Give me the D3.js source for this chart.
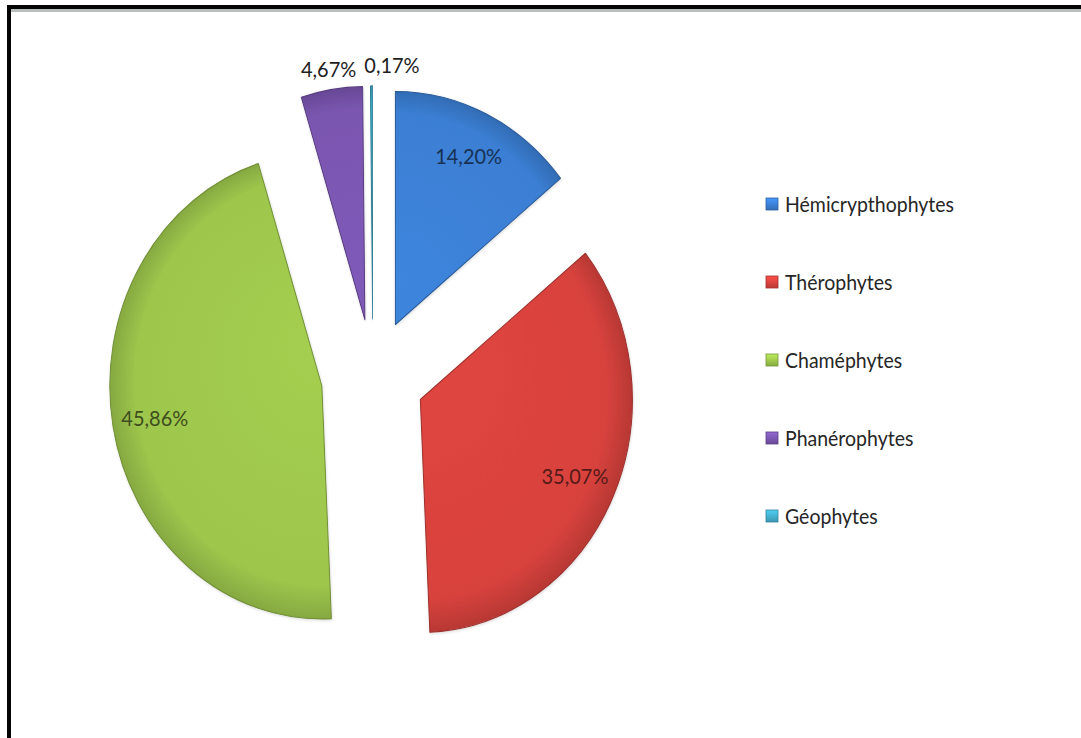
<!DOCTYPE html>
<html>
<head>
<meta charset="utf-8">
<script src="https://cdn.jsdelivr.net/npm/d3@7/dist/d3.min.js"></script>
<style>
  html, body { margin: 0; padding: 0; background: #ffffff; }
  svg { display: block; }
</style>
</head>
<body>
<svg id="chart" width="1081" height="738"></svg>
<script>
// Life-form spectrum (biological types) of the flora, in percent
const categories = ["Hémicrypthophytes", "Thérophytes", "Chaméphytes", "Phanérophytes", "Géophytes"];
const values = [14.20, 35.07, 45.86, 4.67, 0.17];
const valueLabels = ["14,20%", "35,07%", "45,86%", "4,67%", "0,17%"];
const colors = ["#3b7fd4", "#d8423d", "#9dc64c", "#7a56b0", "#43aecd"];

const W = 1081, H = 738;
const svg = d3.select("#chart");

// pie geometry (slightly taller than wide, exploded slices)
const cx = 373, cy = 376;
const R = 233;            // vertical radius
const sx = 0.91;          // horizontal squeeze
const explodeFrac = 0.245;
const textStretch = 1.1;
const fontFamily = "Lato, 'Open Sans', 'DejaVu Sans', sans-serif";

const data = categories.map((name, i) => ({
  name, value: values[i], label: valueLabels[i], color: colors[i]
}));

const pie = d3.pie().sort(null).value(d => d.value)
  .startAngle(0).endAngle(2 * Math.PI);
const arcs = pie(data);
const arc = d3.arc().innerRadius(0).outerRadius(R);

// frame lines
svg.append("rect").attr("x", 0).attr("y", 0).attr("width", W).attr("height", H).attr("fill", "#ffffff");
svg.append("rect").attr("x", 7).attr("y", 9).attr("width", W - 7).attr("height", 3).attr("fill", "#b8bfbc");
svg.append("rect").attr("x", 7).attr("y", 5).attr("width", W - 7).attr("height", 4).attr("fill", "#050505");
svg.append("rect").attr("x", 7).attr("y", 5).attr("width", 4).attr("height", H - 5).attr("fill", "#050505");

const defs = svg.append("defs");

// soft shadow under the slices
const shadow = defs.append("filter").attr("id", "soft").attr("x", "-10%").attr("y", "-10%")
  .attr("width", "120%").attr("height", "120%");
shadow.append("feDropShadow").attr("dx", 0.5).attr("dy", 1).attr("stdDeviation", 1.4)
  .attr("flood-color", "#000").attr("flood-opacity", 0.16);

// slice shading: lighter centre, darker rim
data.forEach((d, i) => {
  const c = d3.color(d.color);
  const g = defs.append("radialGradient").attr("id", "slice" + i)
    .attr("gradientUnits", "userSpaceOnUse").attr("cx", 0).attr("cy", 0).attr("r", R)
    .attr("fx", 0).attr("fy", -R * 0.2);
  g.append("stop").attr("offset", "0%").attr("stop-color", c.brighter(0.12));
  g.append("stop").attr("offset", "88%").attr("stop-color", c);
  g.append("stop").attr("offset", "100%").attr("stop-color", c.darker(0.45));

  const lg = defs.append("linearGradient").attr("id", "key" + i)
    .attr("x1", 0).attr("y1", 0).attr("x2", 0).attr("y2", 1);
  lg.append("stop").attr("offset", "0%").attr("stop-color", c.brighter(0.5));
  lg.append("stop").attr("offset", "100%").attr("stop-color", c.darker(0.4));
});

// pie group, squeezed horizontally
const pieG = svg.append("g")
  .attr("transform", `translate(${cx},${cy}) scale(${sx},1)`);

const explode = explodeFrac * R;
const mid = a => (a.startAngle + a.endAngle) / 2;

pieG.selectAll("g.slice").data(arcs).join("g")
  .attr("class", "slice")
  .attr("transform", a => `translate(${explode * Math.sin(mid(a))},${-explode * Math.cos(mid(a))})`)
  .attr("filter", "url(#soft)")
  .append("path")
  .attr("d", arc)
  .attr("fill", (a, i) => `url(#slice${i})`)
  .attr("stroke", a => d3.color(a.data.color).darker(0.9))
  .attr("stroke-width", 1.1)
  .attr("stroke-linejoin", "round");

// value labels: inside for big slices, outside for thin ones
function labelPos(a) {
  const m = mid(a);
  const inside = a.data.value >= 10;
  const r = inside ? 0.8 * R : 1.09 * R;
  const ax = cx + sx * explode * Math.sin(m);
  const ay = cy - explode * Math.cos(m);
  return { x: ax + sx * r * Math.sin(m), y: ay - r * Math.cos(m), inside };
}

const labelG = svg.append("g");
const labelNodes = arcs.map(a => {
  const p = labelPos(a);
  const t = labelG.append("text")
    .attr("transform", `translate(${p.x},${p.y}) scale(1,${textStretch})`)
    .attr("text-anchor", "middle")
    .attr("dy", "0.36em")
    .attr("font-family", fontFamily)
    .attr("font-size", 20)
    .attr("fill", p.inside ? d3.color(a.data.color).darker(2.6) : "#1e1e1e")
    .text(a.data.label);
  return { t, p };
});

// nudge neighbouring outside labels apart
const outside = labelNodes.filter(n => !n.p.inside);
for (let i = 1; i < outside.length; i++) {
  const prev = outside[i - 1], cur = outside[i];
  const pb = prev.t.node().getBBox(), cb = cur.t.node().getBBox();
  const prevRight = prev.p.x + pb.width / 2;
  const curLeft = cur.p.x - cb.width / 2;
  const gap = 8;
  if (curLeft < prevRight + gap) {
    cur.p.x += prevRight + gap - curLeft;
    cur.t.attr("transform", `translate(${cur.p.x},${cur.p.y}) scale(1,${textStretch})`);
  }
}

// legend
const legendX = 766, legendTop = 212, legendStep = 78;
const legend = svg.append("g");
const items = legend.selectAll("g").data(data).join("g")
  .attr("transform", (d, i) => `translate(${legendX},${legendTop + i * legendStep})`);
items.append("rect")
  .attr("x", 0).attr("y", -14).attr("width", 12).attr("height", 12)
  .attr("fill", (d, i) => `url(#key${i})`)
  .attr("stroke", d => d3.color(d.color).darker(0.8)).attr("stroke-width", 0.8);
items.append("text")
  .attr("x", 19).attr("y", 0)
  .attr("transform", `scale(1,${textStretch})`)
  .attr("font-family", fontFamily)
  .attr("font-size", 19.5)
  .attr("fill", "#262626")
  .text(d => d.name);
</script>
</body>
</html>
